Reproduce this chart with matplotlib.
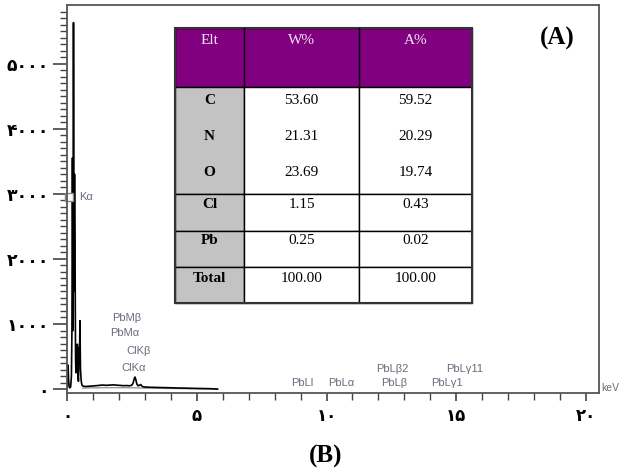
import numpy as np
import matplotlib
matplotlib.use('Agg')
import matplotlib.pyplot as plt
from matplotlib.patches import Rectangle

# EDS spectrum (keV, counts)
energy = [0.00, 0.02, 0.04, 0.06, 0.08, 0.10, 0.14, 0.17, 0.19, 0.20, 0.21, 0.22,
          0.23, 0.24, 0.25, 0.26, 0.27, 0.28, 0.29, 0.30, 0.31, 0.32, 0.33, 0.34,
          0.35, 0.36, 0.37, 0.38, 0.39, 0.40, 0.42, 0.44, 0.45, 0.46, 0.47, 0.48,
          0.49, 0.50, 0.51, 0.52, 0.54, 0.56, 0.58, 0.62, 0.70, 0.80, 0.90, 1.00,
          1.10, 1.20, 1.30, 1.40, 1.50, 1.60, 1.70, 1.80, 1.90, 2.00, 2.10, 2.20,
          2.30, 2.40, 2.50, 2.55, 2.59, 2.62, 2.65, 2.69, 2.74, 2.80, 2.84, 2.90,
          3.00, 3.20, 3.50, 3.80, 4.00, 4.30, 4.60, 5.00, 5.30, 5.60, 5.80]
counts = [0, 180, 370, 150, 40, 20, 30, 200, 900, 2100, 3550, 2400,
          900, 2300, 5630, 3300, 1500, 2200, 3300, 2600, 2160, 1200, 500, 300,
          250, 450, 650, 420, 560, 690, 250, 120, 300, 520, 640, 420,
          760, 1050, 600, 300, 160, 90, 60, 45, 40, 42, 45, 48,
          52, 55, 60, 62, 58, 60, 63, 65, 60, 58, 55, 52,
          55, 50, 60, 95, 160, 185, 150, 80, 50, 60, 70, 40,
          32, 28, 25, 22, 20, 16, 14, 10, 8, 5, 0]

bg_energy = [0.60, 1.00, 1.50, 2.00, 2.50, 3.00, 4.00, 5.00, 5.80]
bg_counts = [15, 20, 22, 22, 20, 15, 10, 5, 0]

# peak labels: text, keV, counts
peak_labels = ['PbMβ', 'PbMα', 'ClKβ', 'ClKα', 'PbLl', 'PbLα', 'PbLβ2', 'PbLβ', 'PbLγ11', 'PbLγ1']
peak_x = [2.31, 2.23, 2.77, 2.58, 9.08, 10.55, 12.55, 12.62, 15.33, 14.65]
peak_y = [1090, 860, 585, 320, 90, 90, 310, 90, 310, 90]

# table contents
elements = ['C', 'N', 'O', 'Cl', 'Pb', 'Total']
w_pct = ['53.60', '21.31', '23.69', '1.15', '0.25', '100.00']
a_pct = ['59.52', '20.29', '19.74', '0.43', '0.02', '100.00']
headers = ['Elt', 'W%', 'A%']

x_ticks = [0, 5, 10, 15, 20]
y_ticks = [0, 1000, 2000, 3000, 4000, 5000]

persian = str.maketrans('0123456789', '۰۱۲۳۴۵۶۷۸۹')

fig = plt.figure(figsize=(6.24, 4.76), dpi=100)
W, H = 624, 476
ax = fig.add_axes([67 / W, 1 - 393 / H, (599 - 67) / W, (393 - 5) / H])

ax.plot(bg_energy, bg_counts, color='#9a9a9a', lw=1.0)
ax.plot(energy, counts, color='black', lw=1.2)

ax.set_xlim(0, 20.5)
ax.set_ylim(-60, 5900)
ax.set_xticks(x_ticks)
ax.set_xticks(np.arange(0, 21, 1), minor=True)
ax.set_yticks(y_ticks)
ax.set_yticks(np.arange(0, 5900, 100), minor=True)
ax.set_xticklabels([str(t).translate(persian) for t in x_ticks],
                   fontsize=12, fontweight='bold', family='DejaVu Sans')
ax.set_yticklabels([str(t).translate(persian) for t in y_ticks],
                   fontsize=12.5, fontweight='bold', family='DejaVu Sans')
ax.tick_params(axis='x', which='major', direction='out', length=6, width=1.2,
               color='#444444', pad=4)
ax.tick_params(axis='x', which='minor', direction='out', length=5, width=1.0,
               color='#444444')
ax.tick_params(axis='y', which='major', direction='out', length=10, width=1.2,
               color='#444444', pad=3)
ax.tick_params(axis='y', which='minor', direction='out', length=5, width=1.0,
               color='#444444')
for s in ax.spines.values():
    s.set_color('#555555')
    s.set_linewidth(1.3)

lab_col = '#6b6b7b'
for t, x, y in zip(peak_labels, peak_x, peak_y):
    ax.text(x, y, t, ha='center', va='center', fontsize=8, color=lab_col,
            family='Liberation Sans')
ax.plot([0.08], [2950], marker='s', ms=6, mfc='white', mec='#888888', mew=1.0,
        clip_on=False)
ax.text(0.46, 2950, 'Kα', ha='left', va='center', fontsize=8, color=lab_col,
        family='Liberation Sans')
ax.text(1.005, 0.012, 'keV', transform=ax.transAxes, ha='left', va='center',
        fontsize=7.5, color=lab_col, family='Liberation Sans')

# overlay in pixel coordinates for the table and panel letters
ov = fig.add_axes([0, 0, 1, 1], facecolor='none')
ov.set_xlim(0, W)
ov.set_ylim(H, 0)
ov.axis('off')

col_x = [175, 244, 359, 472]
row_y = [28, 87, 194, 231, 267, 303]
ov.add_patch(Rectangle((col_x[0], row_y[0]), col_x[3] - col_x[0], row_y[1] - row_y[0],
                       facecolor='#800080', edgecolor='black', lw=1.0))
for i in range(1, 5):
    ov.add_patch(Rectangle((col_x[0], row_y[i]), col_x[1] - col_x[0], row_y[i + 1] - row_y[i],
                           facecolor='#c3c3c3', edgecolor='black', lw=1.0))
    for j in (1, 2):
        ov.add_patch(Rectangle((col_x[j], row_y[i]), col_x[j + 1] - col_x[j], row_y[i + 1] - row_y[i],
                               facecolor='white', edgecolor='black', lw=1.0))
for j in (1, 2):
    ov.plot([col_x[j], col_x[j]], [row_y[0], row_y[1]], color='black', lw=1.0)
ov.add_patch(Rectangle((col_x[0], row_y[0]), col_x[3] - col_x[0], row_y[5] - row_y[0],
                       facecolor='none', edgecolor='#333333', lw=1.5))

col_c = [(col_x[k] + col_x[k + 1]) / 2 for k in range(3)]
for k, h in enumerate(headers):
    ov.text(col_c[k], 41, h, ha='center', va='center', fontsize=11,
            color='#f3e6f3', family='Liberation Serif')
text_y = [100, 137, 172, 204, 241, 278]
for e, w, a, y in zip(elements, w_pct, a_pct, text_y):
    ov.text(col_c[0], y, e, ha='center', va='center', fontsize=11,
            fontweight='bold', family='Liberation Serif')
    ov.text(col_c[1], y, w, ha='center', va='center', fontsize=11,
            family='Liberation Serif')
    ov.text(col_c[2], y, a, ha='center', va='center', fontsize=11,
            family='Liberation Serif')

ov.text(557, 38, '(A)', ha='center', va='center', fontsize=18, fontweight='bold',
        family='Liberation Serif')
ov.text(326, 456, '(B)', ha='center', va='center', fontsize=18, fontweight='bold',
        family='Liberation Serif')

fig.savefig('out.png', dpi=100)
